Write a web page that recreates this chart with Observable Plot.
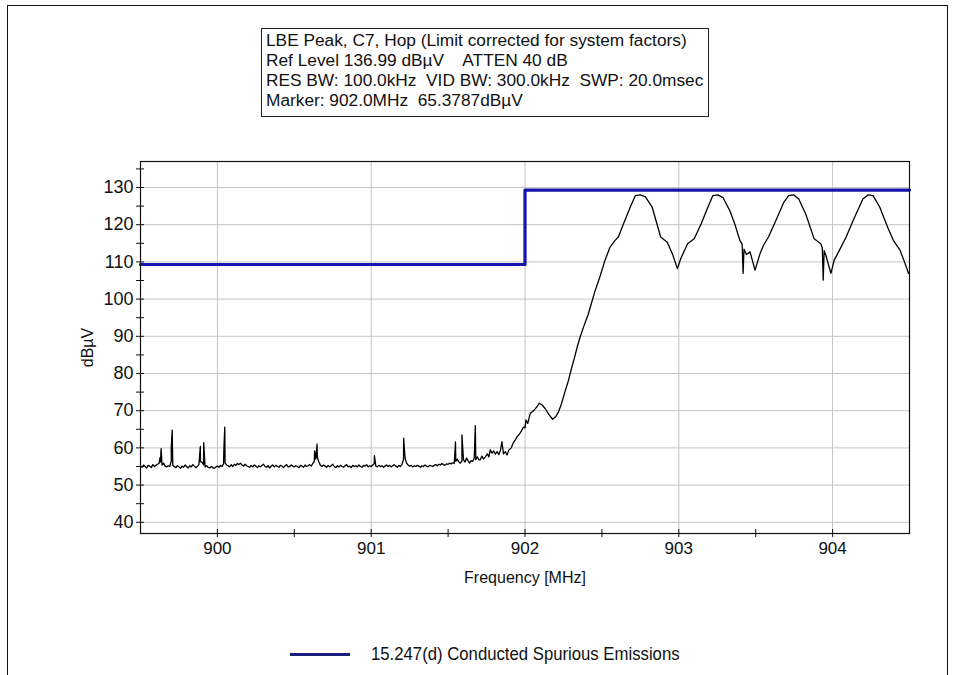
<!DOCTYPE html>
<html>
<head>
<meta charset="utf-8">
<script src="https://cdn.jsdelivr.net/npm/d3@7"></script>
<script src="https://cdn.jsdelivr.net/npm/@observablehq/plot@0.6"></script>
<style>
  body { margin: 0; background: #fff; }
  #wrap { position: relative; width: 954px; height: 675px; overflow: hidden; font-family: "Liberation Sans", Arial, sans-serif; color: #111; }
  #chart { position: absolute; left: 0; top: 0; }
  #outer { position: absolute; left: 7px; top: 5px; width: 941px; height: 720px; border: 1px solid #111; box-sizing: border-box; }
  #info { position: absolute; left: 261px; top: 28px; width: 448px; height: 89px; border: 1px solid #222; box-sizing: border-box; padding: 1px 0 0 4px; font-size: 17.3px; line-height: 20px; white-space: pre; background: #fff; }
  #legend { position: absolute; left: 290px; top: 642px; height: 24px; display: flex; align-items: center; font-size: 19px; color: #111; white-space: nowrap; }
  #legend .sw { width: 60px; height: 3px; background: #1c1c7c; margin-right: 21px; flex: none; }
  #legtext { display: inline-block; transform: scaleX(0.88); transform-origin: left center; }
</style>
</head>
<body>
<div id="wrap">
  <div id="chart"></div>
  <div id="outer"></div>
  <div id="info"></div>
  <div id="legend"><div class="sw"></div><span id="legtext"></span></div>
</div>
<script>
// ---------- data ----------
const infoLines = [
  "LBE Peak, C7, Hop (Limit corrected for system factors)",
  "Ref Level 136.99 dB\u00b5V    ATTEN 40 dB",
  "RES BW: 100.0kHz  VID BW: 300.0kHz  SWP: 20.0msec",
  "Marker: 902.0MHz  65.3787dB\u00b5V"
];
const legendLabel = "15.247(d) Conducted Spurious Emissions";
const xLabel = "Frequency [MHz]";
const yLabel = "dB\u00b5V";

const xDomain = [899.5, 904.5];
const yDomain = [36.99, 136.99];
const xMajorTicks = [900, 901, 902, 903, 904];
const xMinorTicks = [900.5, 901.5, 902.5, 903.5];
const yMajorTicks = [40, 50, 60, 70, 80, 90, 100, 110, 120, 130];
const yMinorTicks = [45, 55, 65, 75, 85, 95, 105, 115, 125, 135];

// limit line (MHz, dBuV)
const limitFreq = [899.5, 902.0, 902.0, 904.5];
const limitLevel = [109.3, 109.3, 129.3, 129.3];

// measured trace: noise floor
const floorTrace = [
[899.50,55.2],[899.51,54.8],[899.52,55.4],[899.53,55.0],[899.54,54.6],[899.55,55.3],[899.56,55.1],[899.57,54.7],[899.58,55.5],[899.59,55.0],
[899.60,55.3],[899.61,55.6],[899.62,55.8],[899.63,56.2],[899.64,55.4],[899.65,55.9],[899.66,55.1],[899.67,54.9],[899.68,55.2],[899.69,55.0],
[899.70,56.4],[899.71,55.3],[899.72,55.0],[899.73,54.7],[899.74,55.2],[899.75,54.9],[899.76,54.5],[899.77,55.1],[899.78,54.8],[899.79,55.4],
[899.80,55.0],[899.81,54.6],[899.82,55.2],[899.83,54.9],[899.84,55.5],[899.85,55.1],[899.86,54.7],[899.87,55.0],[899.88,55.6],[899.89,56.3],
[899.90,56.1],[899.91,55.4],[899.92,54.9],[899.93,55.2],[899.94,54.8],[899.95,54.6],[899.96,55.0],[899.97,54.7],[899.98,54.5],[899.99,54.9],
[900.00,55.1],[900.01,54.8],[900.02,55.3],[900.03,55.0],[900.04,55.7],[900.05,56.0],[900.06,55.4],[900.07,55.2],[900.08,54.9],[900.09,55.5],
[900.10,55.0],[900.11,55.6],[900.12,55.3],[900.13,55.8],[900.14,55.5],[900.15,55.9],[900.16,55.4],[900.17,55.1],[900.18,55.6],[900.19,55.2],
[900.20,55.0],[900.21,54.8],[900.22,55.3],[900.23,54.9],[900.24,55.4],[900.25,55.1],[900.26,54.7],[900.27,55.2],[900.28,54.9],[900.29,55.3],
[900.30,55.6],[900.31,55.0],[900.32,54.8],[900.33,55.2],[900.34,54.6],[900.35,55.1],[900.36,55.4],[900.37,54.9],[900.38,55.3],[900.39,55.0],
[900.40,54.8],[900.41,55.3],[900.42,55.1],[900.43,54.7],[900.44,55.2],[900.45,55.5],[900.46,54.9],[900.47,55.0],[900.48,55.4],[900.49,55.1],
[900.50,54.9],[900.51,55.2],[900.52,55.0],[900.53,54.7],[900.54,55.3],[900.55,55.1],[900.56,54.8],[900.57,55.4],[900.58,55.0],[900.59,55.2],
[900.60,55.5],[900.61,55.1],[900.62,55.8],[900.63,56.4],[900.64,57.0],[900.65,57.4],[900.66,56.2],[900.67,55.3],[900.68,55.0],[900.69,55.4],
[900.70,55.1],[900.71,54.8],[900.72,55.3],[900.73,54.9],[900.74,55.2],[900.75,55.6],[900.76,55.0],[900.77,54.7],[900.78,55.2],[900.79,54.9],
[900.80,55.3],[900.81,55.0],[900.82,54.8],[900.83,55.2],[900.84,55.5],[900.85,54.9],[900.86,55.1],[900.87,54.7],[900.88,55.3],[900.89,55.0],
[900.90,55.2],[900.91,54.9],[900.92,55.4],[900.93,55.0],[900.94,54.8],[900.95,55.3],[900.96,55.1],[900.97,55.5],[900.98,54.9],[900.99,55.2],
[901.00,55.0],[901.01,55.4],[901.02,55.8],[901.03,55.1],[901.04,54.9],[901.05,55.3],[901.06,55.0],[901.07,55.2],[901.08,54.8],[901.09,55.1],
[901.10,55.4],[901.11,55.0],[901.12,55.3],[901.13,54.9],[901.14,55.2],[901.15,55.5],[901.16,55.1],[901.17,54.8],[901.18,55.3],[901.19,55.0],
[901.20,55.6],[901.21,56.8],[901.22,57.3],[901.23,55.9],[901.24,55.4],[901.25,55.1],[901.26,55.3],[901.27,54.9],[901.28,55.2],[901.29,55.0],
[901.30,55.3],[901.31,55.1],[901.32,54.8],[901.33,55.2],[901.34,55.0],[901.35,55.4],[901.36,55.1],[901.37,54.9],[901.38,55.3],[901.39,55.2],
[901.40,55.0],[901.41,55.3],[901.42,55.5],[901.43,55.2],[901.44,55.6],[901.45,55.4],[901.46,55.8],[901.47,55.5],[901.48,55.3],[901.49,55.7],
[901.50,55.6],[901.51,55.9],[901.52,55.7],[901.53,56.0],[901.54,55.8],[901.55,56.4],[901.56,57.0],[901.57,56.2],[901.58,55.9],[901.59,56.5],
[901.60,56.8],[901.61,56.2],[901.62,57.3],[901.63,56.5],[901.64,55.9],[901.65,56.6],[901.66,56.4],[901.67,57.2],[901.68,56.8],[901.69,57.6],
[901.70,56.8]
];

// narrow spurious spikes on the floor
const spikeTrace = [
[899.627,57.4],[899.634,59.8],[899.700,60.2],[899.706,64.8],
[899.889,60.4],[899.911,61.4],[900.042,59.5],[900.048,65.6],
[900.632,59.2],[900.648,61.0],[901.021,57.9],[901.211,62.6],
[901.548,61.6],[901.590,63.5],[901.677,66.0]
];

// rising edge of the hopping band
const rampTrace = [
[901.709,56.8],[901.720,57.8],[901.730,57.0],[901.742,57.6],[901.755,58.4],[901.765,57.6],[901.774,59.5],
[901.785,58.6],[901.796,59.2],[901.807,58.3],[901.818,59.0],[901.830,58.2],[901.840,59.3],[901.850,61.7],
[901.860,58.4],[901.872,59.0],[901.883,58.1],[901.895,59.4],[901.910,60.0],[901.922,61.2],[901.935,62.0],
[901.948,63.0],[901.962,63.6],[901.976,64.5],[901.990,65.6],[902.000,65.4],[902.006,67.5],[902.018,66.6],
[902.034,69.3],[902.050,69.8],[902.066,70.5],[902.080,71.2],[902.092,72.0],[902.110,71.6],[902.131,70.6],
[902.155,69.0],[902.179,67.7],[902.200,68.4],[902.218,69.7],[902.235,71.6],[902.250,73.7],[902.265,75.8],
[902.283,78.2],[902.300,81.0],[902.320,84.0],[902.340,87.2],[902.360,90.0],[902.385,93.0]
];

// hopping channels (four lobes)
const hopTrace = [
[902.410,95.8],[902.432,98.9],[902.454,102.0],[902.487,106.0],[902.520,110.4],[902.553,114.0],[902.586,115.8],
[902.607,116.7],[902.640,120.2],[902.684,124.7],[902.717,127.8],[902.750,128.0],[902.783,127.5],[902.827,124.7],
[902.882,116.7],[902.925,115.3],[902.958,112.2],[902.991,108.2],[903.013,110.9],[903.057,114.9],[903.100,116.2],
[903.145,120.2],[903.189,124.7],[903.221,127.8],[903.254,128.0],[903.287,127.3],[903.331,123.8],[903.364,120.2],
[903.397,115.8],[903.412,114.8],[903.418,106.9],[903.424,113.4],[903.440,112.0],[903.463,112.7],[903.496,107.8],
[903.528,112.2],[903.550,114.4],[903.583,116.7],[903.627,120.7],[903.682,126.0],[903.715,127.8],[903.748,128.0],
[903.780,126.9],[903.825,122.9],[903.880,116.2],[903.923,114.9],[903.933,113.8],[903.939,105.1],[903.945,113.0],
[903.956,111.8],[903.989,106.9],[904.010,110.4],[904.044,113.1],[904.088,116.7],[904.143,122.0],[904.197,126.9],
[904.230,128.0],[904.263,127.8],[904.307,124.7],[904.362,118.9],[904.395,115.8],[904.439,113.1],[904.471,109.6],
[904.494,106.9]
];

// ---------- build ----------
const trace = [...floorTrace, ...spikeTrace, ...rampTrace, ...hopTrace]
  .map(([f, v]) => ({f, v}))
  .sort((a, b) => a.f - b.f);
const limit = limitFreq.map((f, i) => ({f, v: limitLevel[i]}));

const font = '"Liberation Sans", Arial, sans-serif';

const chart = Plot.plot({
  width: 954,
  height: 675,
  marginLeft: 140,
  marginRight: 45,
  marginTop: 161,
  marginBottom: 142,
  style: {background: "transparent", color: "#111", fontFamily: font},
  x: {domain: xDomain, label: null},
  y: {domain: yDomain, label: null},
  marks: [
    Plot.gridX(xMajorTicks, {stroke: "#c4c4c4", strokeOpacity: 1, strokeWidth: 1}),
    Plot.gridY(yMajorTicks, {stroke: "#c4c4c4", strokeOpacity: 1, strokeWidth: 1}),
    Plot.line(trace, {x: "f", y: "v", stroke: "#000", strokeWidth: 1.3, curve: "linear"}),
    Plot.line(limit, {x: "f", y: "v", stroke: "#1414b0", strokeWidth: 3.2}),
    Plot.frame({stroke: "#111", strokeWidth: 1.2}),
    // x axis: major with labels, plus crossing ticks
    Plot.axisX({ticks: xMajorTicks, tickSize: 4, tickPadding: 4, label: null, tickFormat: d => String(d),
      fontSize: 17, fontFamily: font, stroke: "#111"}),
    Plot.axisX({ticks: xMajorTicks, tickSize: -4, text: null, label: null, stroke: "#111"}),
    Plot.axisX({ticks: xMinorTicks, tickSize: 4, text: null, label: null, stroke: "#111"}),
    Plot.axisX({ticks: xMinorTicks, tickSize: -4, text: null, label: null, stroke: "#111"}),
    // y axis
    Plot.axisY({ticks: yMajorTicks, tickSize: 4, tickPadding: 3, label: null, tickFormat: d => String(d),
      fontSize: 18, fontFamily: font, stroke: "#111"}),
    Plot.axisY({ticks: yMajorTicks, tickSize: -4, text: null, label: null, stroke: "#111"}),
    Plot.axisY({ticks: yMinorTicks, tickSize: 4, text: null, label: null, stroke: "#111"}),
    Plot.axisY({ticks: yMinorTicks, tickSize: -4, text: null, label: null, stroke: "#111"}),
    // axis titles
    Plot.text([xLabel], {frameAnchor: "bottom", dy: 49, fontSize: 16, fontFamily: font, fill: "#111"}),
    Plot.text([yLabel], {frameAnchor: "left", textAnchor: "middle", dx: -53, rotate: -90, fontSize: 16, fontFamily: font, fill: "#111"})
  ]
});
document.getElementById("chart").appendChild(chart);
document.getElementById("info").textContent = infoLines.join("\n");
document.getElementById("legtext").textContent = legendLabel;
</script>
</body>
</html>
